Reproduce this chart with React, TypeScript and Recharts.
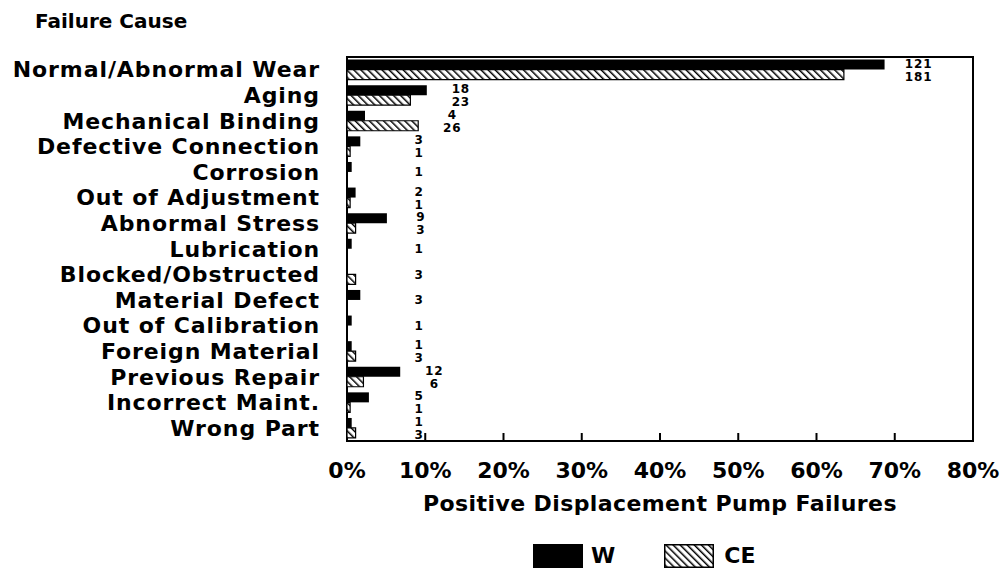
import React from 'react';
import { BarChart, Bar, XAxis, YAxis, Legend, LabelList, ReferenceArea } from 'recharts';

// failure causes, top to bottom
const causes = [
  'Normal/Abnormal Wear',
  'Aging',
  'Mechanical Binding',
  'Defective Connection',
  'Corrosion',
  'Out of Adjustment',
  'Abnormal Stress',
  'Lubrication',
  'Blocked/Obstructed',
  'Material Defect',
  'Out of Calibration',
  'Foreign Material',
  'Previous Repair',
  'Incorrect Maint.',
  'Wrong Part',
];

// percent of failures
const wPct = [68.7, 10.2, 2.3, 1.7, 0.6, 1.1, 5.1, 0.6, 0, 1.7, 0.6, 0.6, 6.8, 2.8, 0.6];
const cePct = [63.5, 8.1, 9.1, 0.4, 0, 0.4, 1.1, 0, 1.1, 0, 0, 1.1, 2.1, 0.4, 1.1];

// failure counts printed next to the bars
const wCount = [121, 18, 4, 3, 1, 2, 9, 1, null, 3, 1, 1, 12, 5, 1];
const ceCount = [181, 23, 26, 1, null, 1, 3, null, 3, null, null, 3, 6, 1, 3];

const xTicks = [0, 10, 20, 30, 40, 50, 60, 70, 80];

const CHART_W = 1000;
const CHART_H = 575;
const X_AXIS_H = 30;
const MARGIN = { top: 57, right: 27, bottom: 575 - 441 - X_AXIS_H, left: 0 };
const Y_AXIS_W = 347;
const PLOT_LEFT = MARGIN.left + Y_AXIS_W;
const PLOT_W = CHART_W - MARGIN.right - PLOT_LEFT;
const PLOT_BOTTOM = CHART_H - MARGIN.bottom - X_AXIS_H;
const BAND = (PLOT_BOTTOM - MARGIN.top) / causes.length;
const X_MAX = 80;
const FONT = '"DejaVu Sans", Verdana, sans-serif';

const data = causes.map((cause, i) => ({
  cause,
  w: wPct[i],
  ce: cePct[i],
  wN: wCount[i],
  ceN: ceCount[i],
  top: Math.max(wPct[i], cePct[i]),
}));

const CauseTick = (props: any) => {
  const { x, y, payload } = props;
  return (
    <text
      x={x}
      y={y}
      textAnchor="end"
      dominantBaseline="central"
      fontFamily={FONT}
      fontWeight="bold"
      fontSize={22}
      letterSpacing={0.9}
      fill="#000"
    >
      {payload.value}
    </text>
  );
};

const PctTick = (props: any) => {
  const { x, y, payload } = props;
  const inner = payload.value > 0 && payload.value < X_MAX;
  return (
    <g>
      {inner && (
        <line x1={x} x2={x} y1={PLOT_BOTTOM} y2={PLOT_BOTTOM - 8} stroke="#000" strokeWidth={2} />
      )}
      <text
        x={x}
        y={y}
        dy="0.71em"
        textAnchor="middle"
        fontFamily={FONT}
        fontWeight="bold"
        fontSize={22}
        fill="#000"
      >
        {payload.value}%
      </text>
    </g>
  );
};

const AxisTitle = (props: any) => {
  const vb = props.viewBox || {};
  return (
    <text
      x={vb.x + vb.width / 2}
      y={PLOT_BOTTOM + 70}
      textAnchor="middle"
      fontFamily={FONT}
      fontWeight="bold"
      fontSize={22}
      letterSpacing={0.4}
      fill="#000"
    >
      Positive Displacement Pump Failures
    </text>
  );
};

// count labels sit in a column to the right of the longer bar of each pair
const CountLabel = (props: any) => {
  const { value, series } = props;
  if (value === null || value === undefined || value === '') return null;
  const box = props.viewBox && props.viewBox.height !== undefined ? props.viewBox : props;
  const midY = box.y + box.height / 2;
  const rowIdx = Math.min(causes.length - 1, Math.max(0, Math.floor((midY - MARGIN.top) / BAND)));
  const row = data[rowIdx];
  const other = series === 'w' ? row.ceN : row.wN;
  const cx = Math.max(PLOT_LEFT + (row.top / X_MAX) * PLOT_W + 34, PLOT_LEFT + 72);
  const cy = other === null ? MARGIN.top + (rowIdx + 0.5) * BAND : midY + (series === 'w' ? -1 : 2);
  return (
    <text
      x={cx}
      y={cy}
      textAnchor="middle"
      dominantBaseline="central"
      fontFamily={FONT}
      fontWeight="bold"
      fontSize={12}
      letterSpacing={0.8}
      fill="#000"
    >
      {value}
    </text>
  );
};

const LegendBox = () => (
  <div
    style={{
      display: 'flex',
      alignItems: 'center',
      paddingLeft: 533,
      fontFamily: FONT,
      fontWeight: 'bold',
      fontSize: 22,
      color: '#000',
    }}
  >
    <svg width={50} height={24}>
      <rect x={0} y={0} width={50} height={24} fill="#000" />
    </svg>
    <span style={{ marginLeft: 8, marginRight: 49 }}>W</span>
    <svg width={50} height={24}>
      <rect x={0.75} y={0.75} width={48.5} height={22.5} fill="url(#hatch)" stroke="#000" strokeWidth={1.5} />
    </svg>
    <span style={{ marginLeft: 10 }}>CE</span>
  </div>
);

export default function App() {
  return (
    <div style={{ position: 'absolute', left: 0, top: 0, width: CHART_W, height: CHART_H, background: '#fff' }}>
      <svg width={0} height={0} style={{ position: 'absolute' }}>
        <defs>
          <pattern id="hatch" width={5} height={5} patternUnits="userSpaceOnUse" patternTransform="rotate(-45)">
            <rect width={5} height={5} fill="#fff" />
            <line x1={0} y1={0} x2={0} y2={5} stroke="#000" strokeWidth={3} />
          </pattern>
        </defs>
      </svg>
      <div
        style={{
          position: 'absolute',
          left: 35,
          top: 11,
          fontFamily: FONT,
          fontWeight: 'bold',
          fontSize: 20,
          lineHeight: '20px',
          color: '#000',
          whiteSpace: 'nowrap',
        }}
      >
        Failure Cause
      </div>
      <BarChart
        width={CHART_W}
        height={CHART_H}
        data={data}
        layout="vertical"
        margin={MARGIN}
        barCategoryGap="10%"
        barGap={0}
      >
        <XAxis
          type="number"
          domain={[0, X_MAX]}
          ticks={xTicks}
          height={X_AXIS_H}
          axisLine={false}
          tickLine={false}
          tickSize={0}
          tickMargin={21}
          tick={<PctTick />}
          interval={0}
          label={<AxisTitle />}
        />
        <YAxis
          type="category"
          dataKey="cause"
          width={Y_AXIS_W}
          axisLine={false}
          tickLine={false}
          tickSize={0}
          tickMargin={27}
          tick={<CauseTick />}
          interval={0}
        />
        <Legend
          layout="horizontal"
          verticalAlign="middle"
          align="center"
          wrapperStyle={{ left: 0, top: 543, width: CHART_W }}
          content={<LegendBox />}
        />
        <Bar dataKey="w" fill="#000" isAnimationActive={false}>
          <LabelList dataKey="wN" content={<CountLabel series="w" />} />
        </Bar>
        <Bar dataKey="ce" fill="url(#hatch)" stroke="#000" strokeWidth={1.2} isAnimationActive={false}>
          <LabelList dataKey="ceN" content={<CountLabel series="ce" />} />
        </Bar>
        <ReferenceArea x1={0} x2={X_MAX} fill="none" stroke="#000" strokeWidth={2} ifOverflow="visible" />
      </BarChart>
    </div>
  );
}
